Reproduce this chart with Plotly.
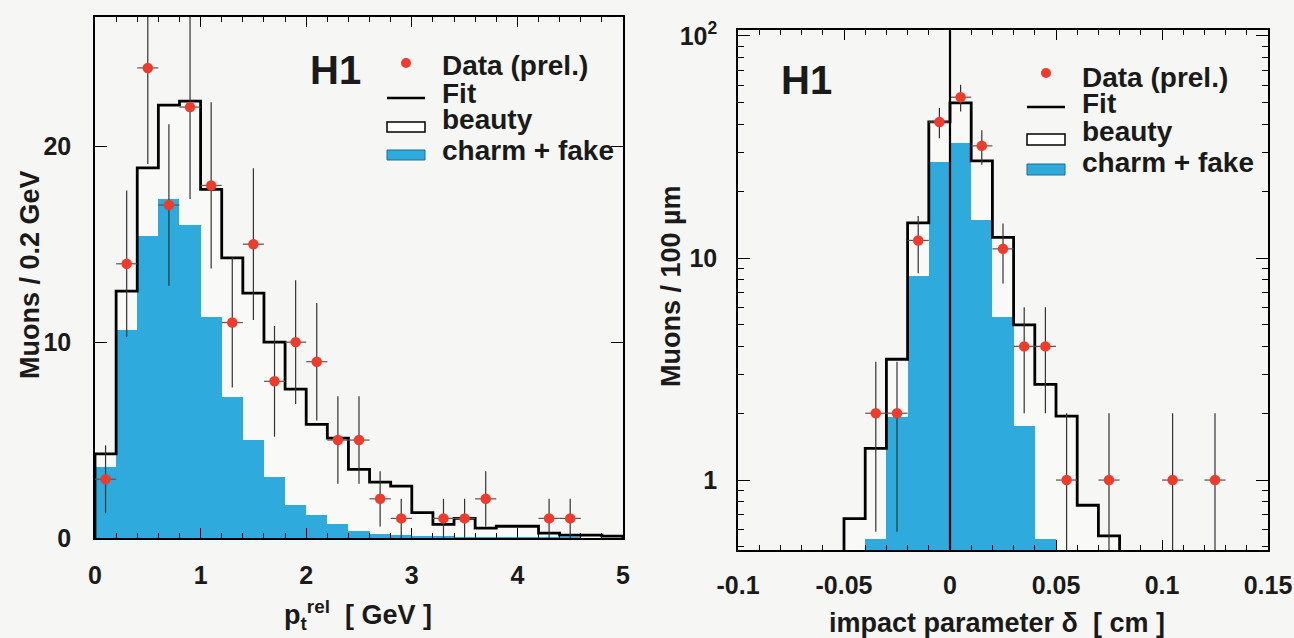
import numpy as np
import plotly.graph_objects as go

# ---------------- data: left panel (p_t^rel) ----------------
pt_edges = [0.0, 0.2, 0.4, 0.6, 0.8, 1.0, 1.2, 1.4, 1.6, 1.8, 2.0, 2.2, 2.4, 2.6,
            2.8, 3.0, 3.2, 3.4, 3.6, 3.8, 4.0, 4.2, 4.4, 4.6, 4.8, 5.0]
pt_fit = [4.3, 12.6, 18.9, 22.1, 22.3, 17.8, 14.3, 12.5, 10.0, 7.6, 5.8, 5.1, 3.5,
          2.85, 2.65, 1.3, 0.7, 1.0, 0.5, 0.6, 0.6, 0.25, 0.15, 0.15, 0.1]
pt_charm = [3.6, 10.6, 15.4, 17.3, 16.0, 11.3, 7.2, 5.0, 3.1, 1.7, 1.2, 0.7, 0.35,
            0.2, 0.15, 0.1, 0.08, 0.06, 0.05, 0.05, 0.04, 0.03, 0.03, 0.02, 0.02]
pt_data_x = [0.1, 0.3, 0.5, 0.7, 0.9, 1.1, 1.3, 1.5, 1.7, 1.9, 2.1, 2.3, 2.5, 2.7,
             2.9, 3.3, 3.5, 3.7, 4.3, 4.5]
pt_data_y = [3, 14, 24, 17, 22, 18, 11, 15, 8, 10, 9, 5, 5, 2, 1, 1, 1, 2, 1, 1]

# ---------------- data: right panel (impact parameter) ----------------
ip_edges = [-0.10, -0.09, -0.08, -0.07, -0.06, -0.05, -0.04, -0.03, -0.02, -0.01,
            0.00, 0.01, 0.02, 0.03, 0.04, 0.05, 0.06, 0.07, 0.08, 0.09, 0.10,
            0.11, 0.12, 0.13, 0.14, 0.15]
ip_fit = [0.05, 0.05, 0.05, 0.05, 0.1, 0.67, 1.39, 3.5, 14.4, 41.0, 50.0, 27.4,
          12.4, 5.0, 2.7, 1.94, 0.77, 0.56, 0.1, 0.05, 0.05, 0.05, 0.05, 0.05, 0.05]
ip_charm = [0.02, 0.02, 0.02, 0.02, 0.03, 0.05, 0.54, 1.92, 8.3, 27.0, 33.0, 14.8,
            5.4, 1.75, 0.54, 0.2, 0.1, 0.05, 0.03, 0.02, 0.02, 0.02, 0.02, 0.02, 0.02]
ip_data_x = [-0.035, -0.025, -0.015, -0.005, 0.005, 0.015, 0.025, 0.035, 0.045,
             0.055, 0.075, 0.105, 0.125]
ip_data_y = [2, 2, 12, 41, 53, 32, 11, 4, 4, 1, 1, 1, 1]

# ---------------- styles ----------------
W, H = 1294, 638
BLUE = "#2eaadc"
RED = "#ee3b2b"
BG = "#f6f6f4"
BEAUTY = "#f9f9f8"
FONT = "Liberation Sans, Arial, Helvetica, sans-serif"


def X(px):
    return px / W


def Y(py):
    return 1 - py / H


def centers(edges):
    e = np.asarray(edges)
    return (e[:-1] + e[1:]) / 2, np.diff(e)


fig = go.Figure()

# ---- left panel ----
c, w = centers(pt_edges)
beauty = np.array(pt_fit) - np.array(pt_charm)
fig.add_trace(go.Bar(x=c, y=pt_charm, width=w, marker=dict(color=BLUE, line=dict(width=0)),
                     xaxis="x", yaxis="y"))
fig.add_trace(go.Bar(x=c, y=beauty, width=w, marker=dict(color=BEAUTY, line=dict(width=0)),
                     xaxis="x", yaxis="y"))
fig.add_trace(go.Scatter(x=[pt_edges[0]] + pt_edges, y=[0] + pt_fit + [0],
                         mode="lines", line=dict(color="black", width=2.8, shape="hv"),
                         xaxis="x", yaxis="y"))
pt_err = np.sqrt(pt_data_y)
fig.add_trace(go.Scatter(
    x=pt_data_x, y=pt_data_y, mode="markers",
    marker=dict(color=RED, size=10.5),
    error_y=dict(type="data", array=pt_err, color="#333333", thickness=1.2, width=0),
    error_x=dict(type="constant", value=0.1, color="#555555", thickness=1.2, width=0),
    xaxis="x", yaxis="y"))

# ---- right panel ----
c2, w2 = centers(ip_edges)
beauty2 = np.array(ip_fit) - np.array(ip_charm)
fig.add_trace(go.Bar(x=c2, y=ip_charm, width=w2, marker=dict(color=BLUE, line=dict(width=0)),
                     xaxis="x2", yaxis="y2"))
fig.add_trace(go.Bar(x=c2, y=beauty2, width=w2, marker=dict(color=BEAUTY, line=dict(width=0)),
                     xaxis="x2", yaxis="y2"))
fig.add_trace(go.Scatter(x=[ip_edges[0]] + ip_edges, y=[0.01] + ip_fit + [0.01],
                         mode="lines", line=dict(color="black", width=2.8, shape="hv"),
                         xaxis="x2", yaxis="y2"))
ip_y = np.array(ip_data_y, dtype=float)
ip_err = np.sqrt(ip_y)
ip_errm = np.minimum(ip_err, ip_y * 0.999)
fig.add_trace(go.Scatter(
    x=ip_data_x, y=ip_data_y, mode="markers",
    marker=dict(color=RED, size=10.5),
    error_y=dict(type="data", array=ip_err, arrayminus=ip_errm, color="#333333",
                 thickness=1.2, width=0),
    error_x=dict(type="constant", value=0.005, color="#555555", thickness=1.2, width=0),
    xaxis="x2", yaxis="y2"))

tickfont = dict(family=FONT, size=25, color="#1a1a1a", weight="bold")
axcommon = dict(showgrid=False, zeroline=False, showline=True, linecolor="black",
                linewidth=1.5, mirror="ticks", ticks="inside", tickcolor="black",
                tickwidth=1.2, tickfont=tickfont, automargin=False)

fig.update_layout(
    width=W, height=H,
    margin=dict(l=0, r=0, t=0, b=0, autoexpand=False),
    paper_bgcolor=BG, plot_bgcolor=BG,
    showlegend=False, barmode="stack", bargap=0,
    font=dict(family=FONT, color="#1a1a1a"),
    xaxis=dict(domain=[X(95), X(623)], range=[0, 5], anchor="y",
               tickvals=[0, 1, 2, 3, 4, 5], ticklen=10, ticklabelstandoff=14,
               minor=dict(dtick=0.2, tick0=0, ticklen=5, ticks="inside",
                          tickcolor="black", tickwidth=1),
               **axcommon),
    yaxis=dict(domain=[Y(538), Y(17)], range=[0, 26.6], anchor="x",
               tickvals=[0, 10, 20], ticklen=12, ticklabelstandoff=17, **axcommon),
    xaxis2=dict(domain=[X(738), X(1268)], range=[-0.1, 0.15], anchor="y2",
                tickvals=[-0.1, -0.05, 0, 0.05, 0.1, 0.15],
                ticktext=["-0.1", "-0.05", "0", "0.05", "0.1", "0.15"],
                ticklen=10, ticklabelstandoff=12,
                minor=dict(dtick=0.01, tick0=0, ticklen=5, ticks="inside",
                           tickcolor="black", tickwidth=1),
                **axcommon),
    yaxis2=dict(domain=[Y(550), Y(30)], type="log", range=[-0.315, 2.027], anchor="x2",
                tickvals=[1, 10, 100], ticktext=["1", "10", "10<sup>2</sup>"],
                ticklen=12, ticklabelstandoff=14,
                minor=dict(tickvals=[0.5, 0.6, 0.7, 0.8, 0.9, 2, 3, 4, 5, 6, 7, 8, 9,
                                     20, 30, 40, 50, 60, 70, 80, 90],
                           ticklen=6, ticks="inside", tickcolor="black", tickwidth=1),
                **axcommon),
)

# vertical line at delta = 0
fig.add_shape(type="line", xref="x2", yref="y2 domain", x0=0, x1=0, y0=0, y1=1,
              line=dict(color="black", width=2.2), layer="above")

# text: H1, axis titles
bold = dict(family=FONT, color="#1a1a1a", weight="bold")
ann = []
ann.append(dict(x=X(335), y=Y(70), text="H1", font=dict(size=40, **bold)))
ann.append(dict(x=X(806), y=Y(80), text="H1", font=dict(size=40, **bold)))
ann.append(dict(x=X(30), y=Y(275), text="Muons / 0.2 GeV", textangle=-90,
                font=dict(size=27, **bold)))
ann.append(dict(x=X(671), y=Y(286), text="Muons / 100 µm", textangle=-90,
                font=dict(size=27, **bold)))
ann.append(dict(x=X(358), y=Y(615), text="p<sub>t</sub><sup>rel</sup>  [ GeV ]",
                font=dict(size=27, **bold)))
ann.append(dict(x=X(997), y=Y(623), text="impact parameter δ  [ cm ]",
                font=dict(size=27, **bold)))


def add_legend(text_x, centers_y, sym_x0, sym_x1, dot_y, line_y, box1, box2):
    labels = ["Data (prel.)", "Fit", "beauty", "charm + fake"]
    for lab, cy in zip(labels, centers_y):
        ann.append(dict(x=X(text_x), y=Y(cy), text=lab, xanchor="left", yanchor="middle",
                        font=dict(size=28, **bold)))
    cx = (sym_x0 + sym_x1) / 2
    fig.add_shape(type="circle", xref="paper", yref="paper",
                  x0=X(cx - 5), x1=X(cx + 5), y0=Y(dot_y + 5), y1=Y(dot_y - 5),
                  fillcolor=RED, line=dict(width=0))
    fig.add_shape(type="line", xref="paper", yref="paper",
                  x0=X(sym_x0), x1=X(sym_x1), y0=Y(line_y), y1=Y(line_y),
                  line=dict(color="black", width=2.5))
    fig.add_shape(type="rect", xref="paper", yref="paper",
                  x0=X(sym_x0), x1=X(sym_x1), y0=Y(box1[1]), y1=Y(box1[0]),
                  fillcolor="white", line=dict(color="black", width=1.5))
    fig.add_shape(type="rect", xref="paper", yref="paper",
                  x0=X(sym_x0), x1=X(sym_x1), y0=Y(box2[1]), y1=Y(box2[0]),
                  fillcolor=BLUE, line=dict(color="#1d6f90", width=1))


add_legend(440, [65, 93, 120, 150], 387, 425, 63, 98, (122, 132), (150, 160))
add_legend(1080, [77, 104, 132, 162], 1027, 1065, 73, 107, (134, 145), (164, 175))

for a in ann:
    a.setdefault("xref", "paper")
    a.setdefault("yref", "paper")
    a.setdefault("xanchor", "center")
    a.setdefault("yanchor", "middle")
    a.setdefault("showarrow", False)
fig.update_layout(annotations=ann)

fig.write_html("out.html",
               config={"displayModeBar": False},
               post_script="document.body.style.margin='0px';"
                           "document.body.style.overflow='hidden';")
